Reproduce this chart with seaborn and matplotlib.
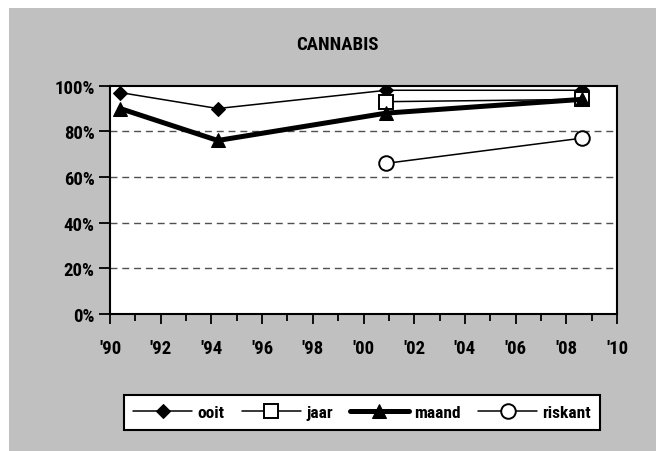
import matplotlib
matplotlib.use("Agg")
import matplotlib.pyplot as plt
from matplotlib.patches import Rectangle
from matplotlib.ticker import MultipleLocator, FixedLocator
from matplotlib import font_manager
import seaborn as sns
import pandas as pd
import numpy as np

# ---- data ----
years = [1990.4, 1994.25, 2000.9, 2008.6]
ooit = [97, 90, 98, 98]
jaar = [np.nan, np.nan, 93, 94]
maand = [90, 76, 88, 94]
riskant = [np.nan, np.nan, 66, 77]
x_ticks = [1990, 1992, 1994, 1996, 1998, 2000, 2002, 2004, 2006, 2008, 2010]
x_labels = ["'90", "'92", "'94", "'96", "'98", "'00", "'02", "'04", "'06", "'08", "'10"]
y_ticks = [0, 20, 40, 60, 80, 100]
y_labels = ["0%", "20%", "40%", "60%", "80%", "100%"]
title = "CANNABIS"

sns.set_style("white")
available = {f.name for f in font_manager.fontManager.ttflist}
cands = ["Liberation Sans Narrow", "DejaVu Sans Condensed", "Roboto Condensed", "Open Sans Condensed"]
FONT = [c for c in cands if c in available] + ["DejaVu Sans"]
plt.rcParams["font.family"] = FONT
plt.rcParams["font.weight"] = "bold"
plt.rcParams["text.color"] = "black"
plt.rcParams["xtick.color"] = "black"
plt.rcParams["ytick.color"] = "black"

W, H = 656, 452
fig = plt.figure(figsize=(W / 100, H / 100), dpi=100)
fig.patch.set_facecolor("white")
fig.patches.append(Rectangle((9 / W, 0), 1, 1 - 9 / H, transform=fig.transFigure,
                             facecolor="#C0C0C0", edgecolor="none", zorder=-10))

ax = fig.add_axes([110 / W, 1 - 315 / H, (617 - 110) / W, (315 - 86.7) / H])
ax.set_facecolor("white")

df = pd.DataFrame({"year": years, "ooit": ooit, "jaar": jaar, "maand": maand, "riskant": riskant})

styles = {
    "ooit": dict(marker="D", lw=1.1, markersize=7.5, markerfacecolor="black", markeredgecolor="black"),
    "jaar": dict(marker="s", lw=1.1, markersize=9.5, markerfacecolor="white", markeredgecolor="black", markeredgewidth=1.4),
    "maand": dict(marker="^", lw=3.6, markersize=9.5, markerfacecolor="black", markeredgecolor="black"),
    "riskant": dict(marker="o", lw=1.1, markersize=10.5, markerfacecolor="white", markeredgecolor="black", markeredgewidth=1.4),
}
for name in ["ooit", "jaar", "maand", "riskant"]:
    sub = df[["year", name]].dropna()
    sns.lineplot(data=sub, x="year", y=name, ax=ax, color="black", label=name,
                 legend=False, **styles[name])

ax.set_xlim(1990, 2010)
ax.set_ylim(0, 100)
ax.xaxis.set_major_locator(FixedLocator(x_ticks))
ax.set_xticklabels(x_labels)
ax.xaxis.set_minor_locator(MultipleLocator(1))
ax.yaxis.set_major_locator(FixedLocator(y_ticks))
ax.set_yticklabels(y_labels)
ax.set_xlabel("")
ax.set_ylabel("")
ax.tick_params(axis="both", which="both", direction="out", color="black", width=1.3,
               labelsize=13.5, labelcolor="black", bottom=True, left=True)
ax.tick_params(axis="x", which="major", length=7, pad=11)
ax.tick_params(axis="x", which="minor", length=5)
ax.tick_params(axis="y", which="major", length=8, pad=3)
for lab in ax.get_xticklabels() + ax.get_yticklabels():
    lab.set_fontweight("bold")
    lab.set_family(FONT)

for yv in [20, 40, 60, 80]:
    ax.axhline(yv, color="#505050", lw=1.0, linestyle=(0, (5, 3.5)), zorder=0.5)

for s in ax.spines.values():
    s.set_color("black")
    s.set_linewidth(1.5)
    s.set_visible(True)

fig.text(337 / W, 1 - 45 / H, title, ha="center", va="center", fontsize=13.5,
         fontweight="bold", family=FONT, color="black")

leg = fig.legend(loc="center",
                 bbox_to_anchor=(362 / W, 1 - 413.5 / H), ncol=4, frameon=True,
                 fancybox=False, framealpha=1, edgecolor="black", handlelength=3.4,
                 columnspacing=1.0, handletextpad=0.3, borderpad=0.55,
                 prop=dict(family=FONT, weight="bold", size=12.5))
leg.get_frame().set_linewidth(1.5)
for t in leg.get_texts():
    t.set_color("black")

fig.savefig("out.png", dpi=100)
